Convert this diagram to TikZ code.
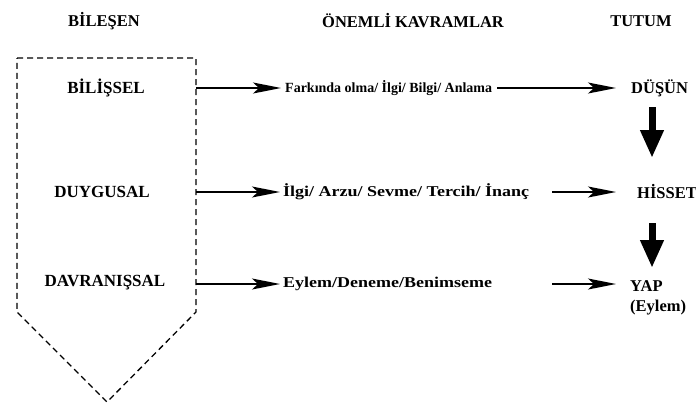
\documentclass[tikz,border=0pt]{standalone}
\usepackage{fontspec}
\setmainfont{Liberation Serif}
\newfontfamily\widefont{Liberation Serif}[FakeStretch=1.2]
\usetikzlibrary{arrows.meta}

\begin{document}
\begin{tikzpicture}[x=1pt,y=-1pt,
  head/.style={font=\bfseries\fontsize{16.5}{18}\selectfont, inner sep=0pt},
  comp/.style={font=\bfseries\fontsize{17}{19}\selectfont, inner sep=0pt},
  item/.style={font=\bfseries\fontsize{14}{16}\selectfont, anchor=west, inner sep=0pt},
  wideitem/.style={font=\widefont\bfseries\fontsize{15}{17}\selectfont, anchor=west, inner sep=0pt},
  result/.style={font=\bfseries\fontsize{16.5}{18}\selectfont, anchor=west, inner sep=0pt, align=left},
  link/.style={line width=1.3pt, -{Stealth[length=28pt,width=11pt,inset=6pt]}},
  down/.style={line width=7pt, -{Triangle[length=28pt,width=22pt]}},
  box/.style={draw, line width=1.3pt, dash pattern=on 6pt off 4pt}]
\useasboundingbox (0,0) rectangle (696,405);

% column headings
\node[head] (h1) at (104,21) {BİLEŞEN};
\node[head] (h2) at (413,21) {ÖNEMLİ KAVRAMLAR};
\node[head] (h3) at (641,21) {TUTUM};

% dashed pentagon holding the three components
\draw[box] (17,58) -- (196,58) -- (196,312) -- (107,402) -- (17,312) -- cycle;

\node[comp] (c1) at (106,88) {BİLİŞSEL};
\node[comp] (c2) at (102,192) {DUYGUSAL};
\node[comp] (c3) at (105,283) {DAVRANIŞSAL};

% key concepts
\node[item] (k1) at (285,88) {Farkında olma/ İlgi/ Bilgi/ Anlama};
\node[wideitem] (k2) at (283,192) {İlgi/ Arzu/ Sevme/ Tercih/ İnanç};
\node[wideitem] (k3) at (283,284) {Eylem/Deneme/Benimseme};

% attitudes
\node[result] (t1) at (631,88) {DÜŞÜN};
\node[result] (t2) at (637,192) {HİSSET};
\node[result, anchor=north west] (t3) at (630,280) {YAP\\[2pt](Eylem)};

% arrow end points on the box edge and before the attitudes
\coordinate (b1) at (196,88);
\coordinate (b2) at (196,192);
\coordinate (b3) at (196,284);
\coordinate (s1) at (497,88);
\coordinate (s2) at (552,192);
\coordinate (s3) at (552,284);
\coordinate (e1) at (616,88);
\coordinate (e2) at (616,192);
\coordinate (e3) at (616,284);

\draw[link] (b1) -- ([xshift=-4pt]k1.west);
\draw[link] (b2) -- ([xshift=-3pt]k2.west);
\draw[link] (b3) -- ([xshift=-3pt]k3.west);
\draw[link] (s1) -- (e1);
\draw[link] (s2) -- (e2);
\draw[link] (s3) -- (e3);

% thick arrows between the attitudes
\coordinate (d1) at (652,107);
\coordinate (d2) at (652,158);
\coordinate (d3) at (652,223);
\coordinate (d4) at (652,268);
\draw[down] (d1) -- (d2);
\draw[down] (d3) -- (d4);
\end{tikzpicture}
\end{document}
